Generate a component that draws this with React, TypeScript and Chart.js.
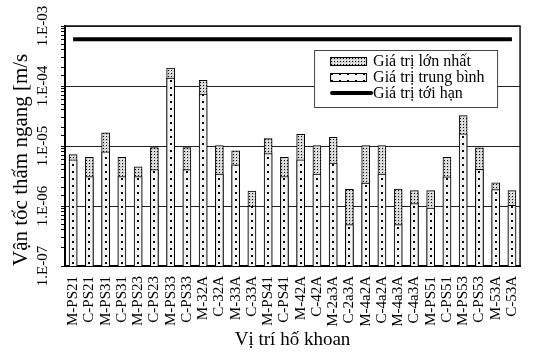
import React, { useEffect, useRef } from "react";
import { Chart, registerables } from "chart.js";

Chart.register(...registerables);

const categories = [
  "M-PS21", "C-PS21", "M-PS31", "C-PS31", "M-PS23", "C-PS23", "M-PS33", "C-PS33",
  "M-32A", "C-32A", "M-33A", "C-33A", "M-PS41", "C-PS41", "M-42A", "C-42A",
  "M-2a3A", "C-2a3A", "M-4a2A", "C-4a2A", "M-4a3A", "C-4a3A", "M-PS51", "C-PS51",
  "M-PS53", "C-PS53", "M-53A", "C-53A",
];

const maxValues = [
  7.2e-6, 6.5e-6, 1.66e-5, 6.5e-6, 4.5e-6, 9.4e-6, 1.98e-4, 9.4e-6,
  1.24e-4, 1.02e-5, 8.3e-6, 1.78e-6, 1.33e-5, 6.5e-6, 1.56e-5, 1.02e-5,
  1.39e-5, 1.9e-6, 1.02e-5, 1.02e-5, 1.92e-6, 1.8e-6, 1.8e-6, 6.5e-6,
  3.2e-5, 9.3e-6, 2.43e-6, 1.8e-6,
];

const meanValues = [
  5.9e-6, 3.1e-6, 8.0e-6, 3.1e-6, 3.1e-6, 4.05e-6, 1.35e-4, 4.05e-6,
  7.3e-5, 3.4e-6, 4.85e-6, 1.0e-6, 7.5e-6, 3.1e-6, 5.9e-6, 3.4e-6,
  5.2e-6, 4.9e-7, 2.4e-6, 3.4e-6, 4.9e-7, 1.1e-6, 9.2e-7, 3.05e-6,
  1.6e-5, 4.1e-6, 1.87e-6, 1.03e-6,
];

const criticalValue = 6.0e-4;
const criticalValues = categories.map(() => criticalValue);

const seriesLabels = ["Giá trị lớn nhất", "Giá trị trung bình", "Giá trị tới hạn"];
const yTitle = "Vận tốc thấm ngang [m/s";
const xTitle = "Vị trí hố khoan";
const yMin = 1e-7;
const yMax = 1e-3;

const FONT = "'Liberation Serif', 'Times New Roman', serif";

function isMajor(v: number) {
  const l = Math.log10(v);
  return Math.abs(l - Math.round(l)) < 1e-6;
}
function fmtTick(v: number) {
  const e = -Math.round(Math.log10(v));
  return "1.E-" + (e < 10 ? "0" + e : String(e));
}

function makeDenseTile() {
  const c = document.createElement("canvas");
  c.width = 3;
  c.height = 3;
  const g = c.getContext("2d")!;
  g.fillStyle = "#d4d4d4";
  g.fillRect(0, 0, 3, 3);
  g.fillStyle = "#000";
  g.fillRect(1, 1, 1, 1);
  g.fillStyle = "#ffffff";
  g.fillRect(0, 0, 1, 1);
  return c;
}
function makeSparseTile() {
  const c = document.createElement("canvas");
  c.width = 8;
  c.height = 7;
  const g = c.getContext("2d")!;
  g.fillStyle = "#f4f4f4";
  g.fillRect(0, 0, 8, 7);
  g.fillStyle = "#000";
  g.fillRect(3, 3, 2, 2);
  return c;
}

export default function App() {
  const ref = useRef<HTMLCanvasElement | null>(null);

  useEffect(() => {
    const canvas = ref.current!;
    const denseTile = makeDenseTile();
    const sparseTile = makeSparseTile();
    const BAR_W = 8;

    const patternFor = (tile: HTMLCanvasElement) => (ctx: any) => {
      const chart = ctx.chart;
      const p = chart.ctx.createPattern(tile, "repeat");
      if (ctx.type === "data" && chart.scales && chart.scales.x) {
        const xc = chart.scales.x.getPixelForValue(ctx.dataIndex);
        p.setTransform(new DOMMatrix([1, 0, 0, 1, Math.round(xc - BAR_W / 2), 0]));
      }
      return p;
    };

    const legendPlugin = {
      id: "boxLegend",
      afterDraw(chart: any) {
        const { ctx, chartArea } = chart;
        ctx.save();
        const bx = chartArea.right - 206;
        const by = chartArea.top + 24;
        const bw = 183;
        const bh = 57;
        ctx.fillStyle = "#fff";
        ctx.fillRect(bx, by, bw, bh);
        ctx.strokeStyle = "#444";
        ctx.lineWidth = 1;
        ctx.strokeRect(bx + 0.5, by + 0.5, bw, bh);
        const sx = bx + 16;
        const sw = 36;
        const tx = bx + 59;
        const rows = [by + 11, by + 27, by + 43];
        const tiles = [denseTile, sparseTile];
        for (let i = 0; i < 2; i++) {
          const p = ctx.createPattern(tiles[i], "repeat");
          ctx.fillStyle = p;
          ctx.fillRect(sx, rows[i] - 4, sw, 8);
          ctx.strokeStyle = "#000";
          ctx.strokeRect(sx + 0.5, rows[i] - 4 + 0.5, sw, 8);
        }
        ctx.beginPath();
        ctx.lineCap = "round";
        ctx.lineWidth = 4;
        ctx.strokeStyle = "#000";
        ctx.moveTo(sx + 2, rows[2]);
        ctx.lineTo(sx + 41, rows[2]);
        ctx.stroke();
        ctx.fillStyle = "#000";
        ctx.font = "16px " + FONT;
        ctx.textBaseline = "middle";
        ctx.textAlign = "left";
        const ds = chart.data.datasets;
        for (let i = 0; i < 3; i++) ctx.fillText(ds[i].label, tx, rows[i] + 1);
        ctx.restore();
      },
    };

    const framePlugin = {
      id: "frame",
      afterDraw(chart: any) {
        const { ctx, chartArea } = chart;
        ctx.save();
        ctx.strokeStyle = "#111";
        ctx.lineWidth = 1.5;
        ctx.beginPath();
        ctx.moveTo(chartArea.left, chartArea.top);
        ctx.lineTo(chartArea.right, chartArea.top);
        ctx.lineTo(chartArea.right, chartArea.bottom);
        ctx.stroke();
        ctx.restore();
      },
    };

    const chart = new Chart(canvas, {
      type: "bar",
      data: {
        labels: categories,
        datasets: [
          {
            type: "bar",
            label: seriesLabels[0],
            data: maxValues,
            grouped: false,
            order: 3,
            barThickness: BAR_W,
            backgroundColor: patternFor(denseTile),
            borderColor: "#000",
            borderWidth: 1,
          } as any,
          {
            type: "bar",
            label: seriesLabels[1],
            data: meanValues,
            grouped: false,
            order: 2,
            barThickness: BAR_W,
            backgroundColor: patternFor(sparseTile),
            borderColor: "#000",
            borderWidth: 1,
          } as any,
          {
            type: "line",
            label: seriesLabels[2],
            data: criticalValues,
            order: 1,
            borderColor: "#000",
            borderWidth: 4,
            pointRadius: 0,
            fill: false,
          } as any,
        ],
      },
      options: {
        responsive: false,
        maintainAspectRatio: false,
        devicePixelRatio: 1,
        animation: false,
        events: [],
        layout: { padding: { top: 26, left: 0, right: 3, bottom: 0 } },
        plugins: {
          legend: { display: false },
          tooltip: { enabled: false },
        },
        scales: {
          x: {
            afterFit: (s: any) => {
              s.height = 87;
            },
            grid: { display: false, drawTicks: false },
            border: { color: "#000", width: 2 },
            ticks: {
              minRotation: 90,
              maxRotation: 90,
              autoSkip: false,
              padding: 10,
              color: "#000",
              font: { family: FONT, size: 15 },
            },
            title: {
              display: true,
              text: xTitle,
              color: "#000",
              font: { family: FONT, size: 19 },
              padding: { top: 0, bottom: 2 },
            },
          },
          y: {
            type: "logarithmic",
            min: yMin,
            max: yMax,
            afterFit: (s: any) => {
              s.width = 65;
            },
            border: { color: "#000", width: 2 },
            grid: {
              color: (c: any) => (c.tick && isMajor(c.tick.value) ? "#222" : "rgba(0,0,0,0)"),
              tickColor: "#000",
              tickLength: 4,
              lineWidth: 1,
            },
            ticks: {
              autoSkip: false,
              minRotation: 90,
              maxRotation: 90,
              crossAlign: "center",
              padding: -2,
              color: "#000",
              font: { family: FONT, size: 15 },
              callback: (v: any) => (isMajor(Number(v)) ? fmtTick(Number(v)) : ""),
            },
            title: {
              display: true,
              text: yTitle,
              align: "start",
              color: "#000",
              font: { family: FONT, size: 21 },
              padding: { top: 9, bottom: 0 },
            },
          },
        },
      } as any,
      plugins: [framePlugin, legendPlugin],
    });

    return () => chart.destroy();
  }, []);

  return (
    <div
      style={{
        position: "absolute",
        left: 0,
        top: 0,
        width: 535,
        height: 353,
        overflow: "hidden",
        background: "#fff",
      }}
    >
      <canvas ref={ref} width={540} height={353} style={{ display: "block" }} />
    </div>
  );
}
